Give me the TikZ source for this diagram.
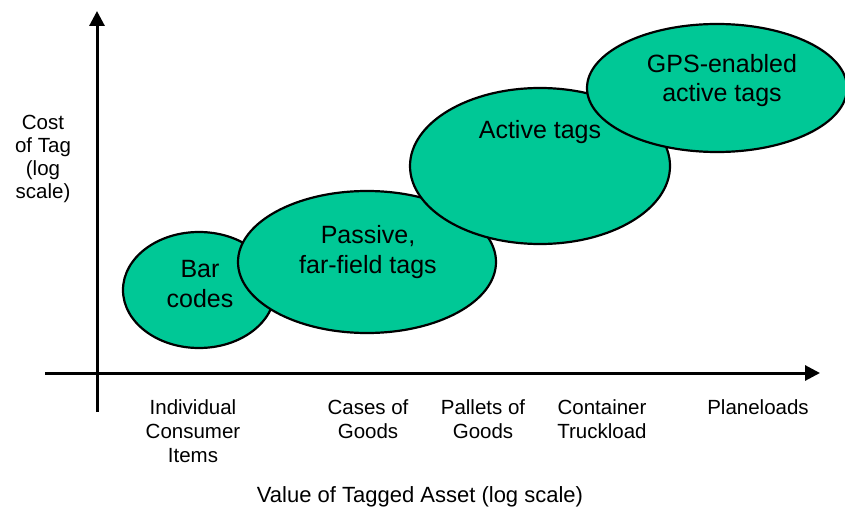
\documentclass[tikz,border=0pt]{standalone}
\usepackage{fontspec}
\setmainfont{Liberation Sans}
\usetikzlibrary{shapes.geometric,arrows.meta}
\definecolor{tagfill}{HTML}{00C896}
\tikzset{
  blob/.style={ellipse, draw=black, line width=2.2pt, fill=tagfill, inner sep=0pt},
  blobtext/.style={align=center, anchor=base, inner sep=0pt, font=\fontsize{25}{29.5}\selectfont},
  axislabel/.style={align=center, anchor=base, inner sep=0pt, font=\fontsize{20.5}{24}\selectfont},
  axisline/.style={line width=3pt, -{Triangle[length=15pt,width=15pt]}}
}
\begin{document}
\begin{tikzpicture}[x=1pt,y=-1pt]
\useasboundingbox (0,0) rectangle (845,508);
% axes
\coordinate (yb) at (97,412);
\coordinate (yt) at (97,11);
\coordinate (xl) at (45,373);
\coordinate (xr) at (820,373);
\draw[axisline] (yb) -- (yt);
\draw[axisline] (xl) -- (xr);
% ellipses
\node[blob, minimum width=152pt, minimum height=116pt] (bar) at (199,290) {};
\node[blob, minimum width=258pt, minimum height=142pt] (passive) at (367,262) {};
\node[blob, minimum width=260pt, minimum height=156pt] (active) at (540,166) {};
\node[blob, minimum width=260pt, minimum height=128pt] (gps) at (717,88) {};
% ellipse texts (anchor = baseline of last line)
\node[blobtext] (bart) at (200,307) {Bar\\codes};
\node[blobtext] (passivet) at (368,273) {Passive,\\far-field tags};
\node[blobtext] (activet) at (540,138) {Active tags};
\node[blobtext] (gpst) at (722,102) {GPS-enabled\\active tags};
% axis labels
\node[axislabel, font=\fontsize{20.5}{23}\selectfont] (ylab) at (43,198) {Cost\\of Tag\\(log\\scale)};
\node[axislabel] (l1) at (193,462) {Individual\\Consumer\\Items};
\node[axislabel] (l2) at (368,438) {Cases of\\Goods};
\node[axislabel] (l3) at (483,438) {Pallets of\\Goods};
\node[axislabel] (l4) at (602,438) {Container\\Truckload};
\node[axislabel] (l5) at (758,414) {Planeloads};
\node[axislabel, font=\fontsize{22}{26}\selectfont] (xlab) at (420,502) {Value of Tagged Asset (log scale)};
\end{tikzpicture}
\end{document}
